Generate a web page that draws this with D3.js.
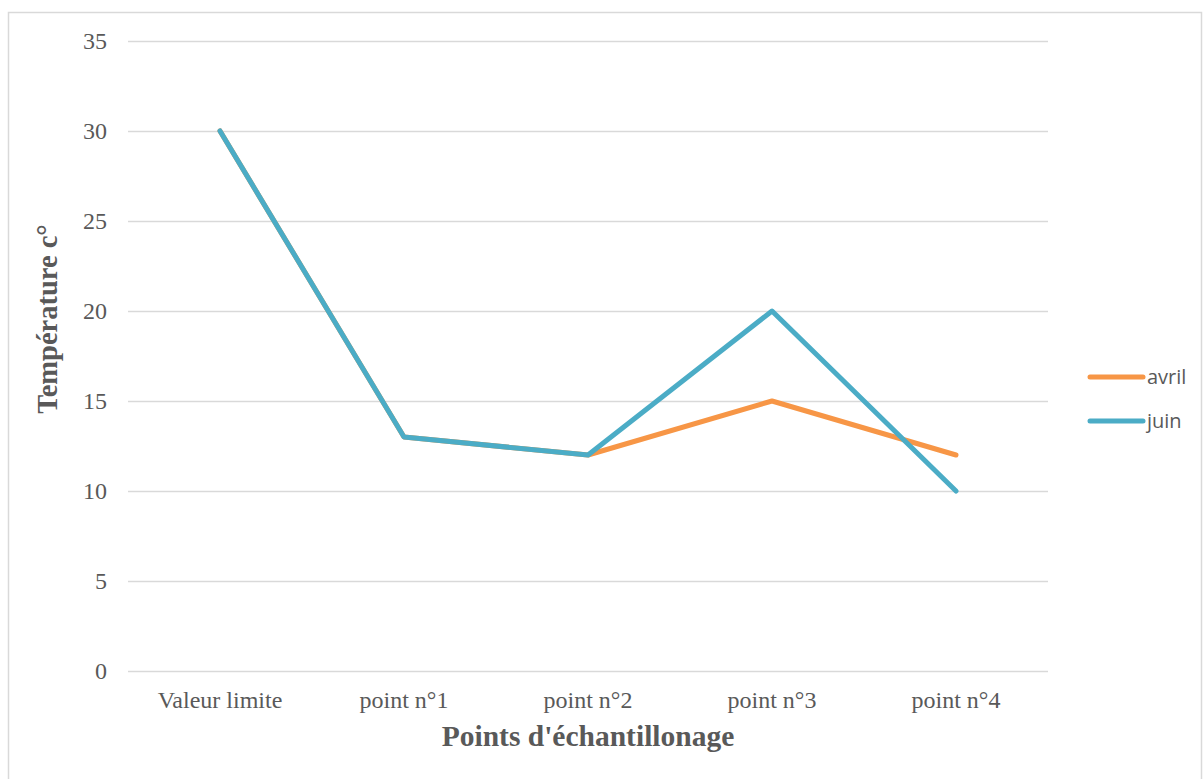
<!DOCTYPE html>
<html>
<head>
<meta charset="utf-8">
<script src="https://cdn.jsdelivr.net/npm/d3@7"></script>
<style>
  html, body { margin: 0; padding: 0; background: #fff; }
  svg { display: block; }
</style>
</head>
<body>
<svg id="chart" width="1203" height="779"></svg>
<script>
// Sampling points and monthly temperatures
const categories = ["Valeur limite", "point n°1", "point n°2", "point n°3", "point n°4"];
const avril = [30, 13, 12, 15, 12];
const juin = [30, 13, 12, 20, 10];
const yTicks = [0, 5, 10, 15, 20, 25, 30, 35];
const seriesNames = ["avril", "juin"];
const seriesColors = ["#F79646", "#4BACC6"];

const svg = d3.select("#chart");
const serif = "'Liberation Serif', 'Times New Roman', serif";

// outer frame
svg.append("rect")
  .attr("x", 8.5).attr("y", 12.5)
  .attr("width", 1193).attr("height", 800)
  .attr("fill", "#fff").attr("stroke", "#d9d9d9").attr("stroke-width", 1.5);

const plot = { left: 128, right: 1048, top: 41, bottom: 671 };

const x = d3.scaleBand().domain(categories).range([plot.left, plot.right]).padding(0);
const y = d3.scaleLinear().domain([0, 35]).range([plot.bottom, plot.top]);

// horizontal gridlines + y tick labels
const yAxis = d3.axisLeft(y).tickValues(yTicks).tickSize(-(plot.right - plot.left)).tickPadding(21).tickFormat(d3.format("d"));
const gy = svg.append("g").attr("transform", `translate(${plot.left},0)`).call(yAxis);
gy.select(".domain").remove();
gy.selectAll(".tick line").attr("stroke", "#d9d9d9").attr("stroke-width", 1.5);
gy.selectAll(".tick text")
  .attr("fill", "#595959")
  .style("font-family", serif)
  .style("font-size", "24px");

// category labels
const xAxis = d3.axisBottom(x).tickSize(0).tickPadding(20);
const gx = svg.append("g").attr("transform", `translate(0,${plot.bottom})`).call(xAxis);
gx.select(".domain").remove();
gx.selectAll(".tick text")
  .attr("fill", "#595959")
  .style("font-family", serif)
  .style("font-size", "24px");

// axis titles
svg.append("text")
  .attr("x", (plot.left + plot.right) / 2).attr("y", 746)
  .attr("text-anchor", "middle")
  .attr("fill", "#595959")
  .style("font-family", serif)
  .style("font-weight", "bold").style("font-size", "29.5px")
  .text("Points d'échantillonage");

svg.append("text")
  .attr("transform", "translate(57,319) rotate(-90)")
  .attr("text-anchor", "middle")
  .attr("fill", "#595959")
  .style("font-family", serif)
  .style("font-weight", "bold").style("font-size", "28.5px")
  .text("Température c°");

// series lines
const line = d3.line()
  .x((d, i) => x(categories[i]) + x.bandwidth() / 2)
  .y(d => y(d));

[avril, juin].forEach((vals, i) => {
  svg.append("path")
    .datum(vals)
    .attr("d", line)
    .attr("fill", "none")
    .attr("stroke", seriesColors[i])
    .attr("stroke-width", 5)
    .attr("stroke-linejoin", "round")
    .attr("stroke-linecap", "round");
});

// legend
const legend = svg.append("g");
seriesNames.forEach((name, i) => {
  const ly = 377 + i * 44;
  legend.append("line")
    .attr("x1", 1090).attr("x2", 1143).attr("y1", ly).attr("y2", ly)
    .attr("stroke", seriesColors[i]).attr("stroke-width", 5).attr("stroke-linecap", "round");
  legend.append("text")
    .attr("x", 1147).attr("y", ly + 7)
    .attr("fill", "#595959")
    .style("font-family", "'Open Sans', 'Liberation Sans', sans-serif")
    .style("font-size", "20px")
    .text(name);
});
</script>
</body>
</html>
